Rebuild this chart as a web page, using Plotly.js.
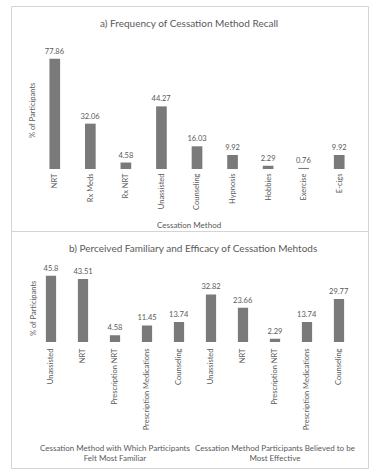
<!DOCTYPE html>
<html>
<head>
<meta charset="utf-8">
<script src="https://cdn.plot.ly/plotly-3.0.1.min.js"></script>
<style>html,body{margin:0;padding:0;background:#fff;}#chart{width:376px;height:475px;}</style>
</head>
<body>
<div id="chart"></div>
<script>
// Panel a data
const methodsA = ["NRT", "Rx Meds", "Rx NRT", "Unassisted", "Counseling", "Hypnosis", "Hobbies", "Exercise", "E-cigs"];
const recallPct = [77.86, 32.06, 4.58, 44.27, 16.03, 9.92, 2.29, 0.76, 9.92];

// Panel b data
const methodsB = ["Unassisted", "NRT", "Prescription NRT", "Prescription Medications", "Counseling",
                  "Unassisted", "NRT", "Prescription NRT", "Prescription Medications", "Counseling"];
const groupB = ["Cessation Method with Which Participants<br>Felt Most Familiar",
                "Cessation Method Participants Believed to be<br>Most Effective"];
const groupIndexB = [0, 0, 0, 0, 0, 1, 1, 1, 1, 1];
const familiarEffectivePct = [45.8, 43.51, 4.58, 11.45, 13.74, 32.82, 23.66, 2.29, 13.74, 29.77];

const W = 376, H = 475;
const px = v => v / W;
const py = v => 1 - v / H;
const FONT = "Lato, 'Open Sans', sans-serif";
const GREY = "#595959";
const BAR = "#7a7a7a";

const posB = methodsB.map((_, i) => i);

const traces = [
  {
    type: "bar", x: methodsA, y: recallPct, xaxis: "x", yaxis: "y",
    marker: {color: BAR}, width: 0.3,
    text: recallPct.map(v => String(v)), textposition: "outside", constraintext: "none",
    textfont: {family: FONT, size: 7.5, color: GREY}, cliponaxis: false,
    hoverinfo: "x+y"
  },
  {
    type: "bar", x: posB, y: familiarEffectivePct, xaxis: "x2", yaxis: "y2",
    marker: {color: BAR}, width: 0.32,
    text: familiarEffectivePct.map(v => String(v)), textposition: "outside", constraintext: "none",
    textfont: {family: FONT, size: 7.5, color: GREY}, cliponaxis: false,
    hoverinfo: "y"
  }
];

// group label annotations computed from data positions
const groupAnn = groupB.map((g, gi) => {
  const idx = posB.filter((_, i) => groupIndexB[i] === gi);
  const mid = idx.reduce((a, b) => a + b, 0) / idx.length;
  return {
    text: g, xref: "x2", x: mid, yref: "paper", y: py(453), yanchor: "middle",
    showarrow: false, font: {family: FONT, size: 8, color: GREY}, align: "center"
  };
});

const layout = {
  width: W, height: H,
  margin: {l: 0, r: 0, t: 0, b: 0},
  paper_bgcolor: "#fff", plot_bgcolor: "rgba(0,0,0,0)",
  showlegend: false,
  font: {family: FONT, color: GREY},
  xaxis: {
    domain: [px(37), px(357)], anchor: "y", type: "category",
    showgrid: false, zeroline: false, showline: false, ticks: "",
    tickangle: -90, tickfont: {family: FONT, size: 7.5, color: GREY},
    ticklabelstandoff: 2, fixedrange: true
  },
  yaxis: {
    domain: [py(169), py(53)], anchor: "x", range: [0, 82],
    showgrid: false, zeroline: false, showline: false, showticklabels: false, ticks: "", fixedrange: true
  },
  xaxis2: {
    domain: [px(35), px(355)], anchor: "y2", range: [-0.5, 9.5],
    tickvals: posB, ticktext: methodsB,
    showgrid: false, zeroline: false, showline: false, ticks: "",
    tickangle: -90, tickfont: {family: FONT, size: 7.5, color: GREY},
    ticklabelstandoff: 4, fixedrange: true
  },
  yaxis2: {
    domain: [py(342), py(269.6)], anchor: "x2", range: [0, 50],
    showgrid: false, zeroline: false, showline: false, showticklabels: false, ticks: "", fixedrange: true
  },
  shapes: [
    {type: "rect", xref: "paper", yref: "paper", x0: px(11.5), x1: px(368.5), y0: py(6.5), y1: py(468.5),
     line: {color: "#d4d4d4", width: 1}, layer: "below"},
    {type: "line", xref: "paper", yref: "paper", x0: px(11.5), x1: px(368.5), y0: py(231.5), y1: py(231.5),
     line: {color: "#d4d4d4", width: 1}, layer: "below"}
  ],
  annotations: [
    {text: "a) Frequency of Cessation Method Recall", xref: "paper", yref: "paper", x: px(189), y: py(23),
     yanchor: "middle", showarrow: false, font: {family: FONT, size: 10, color: GREY}},
    {text: "% of Participants", xref: "paper", yref: "paper", x: px(32), y: py(111), textangle: -90,
     yanchor: "middle", xanchor: "center", showarrow: false, font: {family: FONT, size: 7.5, color: GREY}},
    {text: "Cessation Method", xref: "paper", yref: "paper", x: px(189), y: py(225),
     yanchor: "middle", showarrow: false, font: {family: FONT, size: 8, color: GREY}},
    {text: "b) Perceived Familiary and Efficacy of Cessation Mehtods", xref: "paper", yref: "paper", x: px(193), y: py(248),
     yanchor: "middle", showarrow: false, font: {family: FONT, size: 10, color: GREY}},
    {text: "% of Participants", xref: "paper", yref: "paper", x: px(33), y: py(309), textangle: -90,
     yanchor: "middle", xanchor: "center", showarrow: false, font: {family: FONT, size: 7.5, color: GREY}}
  ].concat(groupAnn)
};

Plotly.newPlot("chart", traces, layout, {displayModeBar: false, staticPlot: true});
</script>
</body>
</html>
